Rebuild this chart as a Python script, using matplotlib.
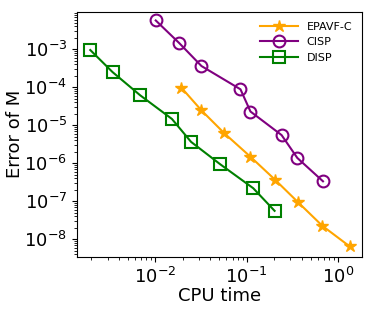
import matplotlib
matplotlib.use('Agg')
import matplotlib.pyplot as plt
from matplotlib.ticker import LogLocator, NullFormatter

# CPU time / error data
epavf_time = [0.0193, 0.032, 0.0571, 0.110, 0.204, 0.367, 0.673, 1.34]
epavf_err = [9.7e-5, 2.45e-5, 6.1e-6, 1.48e-6, 3.7e-7, 9.3e-8, 2.26e-8, 6.5e-9]

cisp_time = [0.0101, 0.0183, 0.032, 0.0855, 0.110, 0.241, 0.358, 0.684]
cisp_err = [5.7e-3, 1.44e-3, 3.6e-4, 8.8e-5, 2.29e-5, 5.5e-6, 1.38e-6, 3.35e-7]

disp_time = [0.00194, 0.0034, 0.00684, 0.0152, 0.0246, 0.0516, 0.118, 0.202]
disp_err = [9.5e-4, 2.5e-4, 6.1e-5, 1.46e-5, 3.65e-6, 9.3e-7, 2.2e-7, 5.6e-8]

fig = plt.figure(figsize=(3.74, 3.12), dpi=100)
ax = fig.add_axes([0.206, 0.177, 0.762, 0.786])

ax.loglog(epavf_time, epavf_err, color='orange', marker='*', markersize=9, lw=1.5, label='EPAVF-C')
ax.loglog(cisp_time, cisp_err, color='purple', marker='o', markersize=8.5,
          markerfacecolor='none', markeredgewidth=1.5, lw=1.5, label='CISP')
ax.loglog(disp_time, disp_err, color='green', marker='s', markersize=8,
          markerfacecolor='none', markeredgewidth=1.5, lw=1.5, label='DISP')

ax.set_xlim(0.00139, 1.83)
ax.set_ylim(10 ** -8.46, 10 ** -2.01)

# every decade labelled on y, dense minor ticks
ax.yaxis.set_major_locator(LogLocator(base=10, numticks=20))
ax.yaxis.set_minor_locator(LogLocator(base=10, subs=range(2, 10), numticks=20))
ax.yaxis.set_minor_formatter(NullFormatter())

ax.set_xlabel('CPU time', fontsize=13, labelpad=0)
ax.set_ylabel('Error of M', fontsize=13, labelpad=0)
ax.tick_params(axis='both', which='major', labelsize=13)

ax.legend(loc='upper right', fontsize=8, frameon=False, handlelength=3.4)

fig.savefig('out.png', dpi=100)
